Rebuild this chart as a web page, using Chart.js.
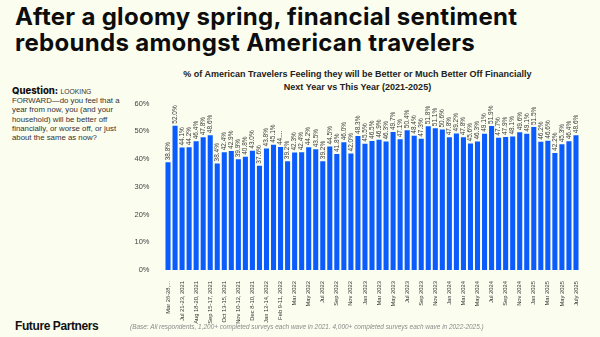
<!DOCTYPE html>
<html>
<head>
<meta charset="utf-8">
<script src="https://cdn.jsdelivr.net/npm/chart.js@4/dist/chart.umd.min.js"></script>
<style>
  html, body { margin: 0; padding: 0; background: #fbfdef; }
  #page { position: relative; width: 600px; height: 337px; overflow: hidden; background: #fbfdef;
          font-family: 'Liberation Sans', Arial, sans-serif; color: #111; }
  #headline { position: absolute; left: 15px; top: 4px; font-family: Inter, sans-serif; font-weight: 700;
              font-size: 24px; line-height: 26px; letter-spacing: 0.3px; color: #0d0d0d; white-space: nowrap; }
  #chartTitle { position: absolute; left: 150px; width: 415px; top: 68px; text-align: center;
                font-weight: 700; font-size: 9px; line-height: 13px; color: #222; }
  #question { position: absolute; left: 12px; top: 86px; font-size: 7.8px; line-height: 9.2px; color: #333; white-space: nowrap; }
  #question b { font-family: Inter, sans-serif; font-weight: 800; font-size: 9.5px; color: #111; }
  #question .caps { font-size: 6.8px; }
  #brand { position: absolute; left: 15px; top: 319px; font-weight: 700; font-size: 12px; letter-spacing: -0.4px; color: #111; }
  #base { position: absolute; left: 130px; top: 323px; font-style: italic; font-size: 6.45px; color: #8a8a8a; white-space: nowrap; }
  #wrap { position: absolute; left: 130px; top: 92px; width: 470px; height: 240px; }
</style>
</head>
<body>
<div id="page">
  <div id="headline">After a gloomy spring, financial sentiment<br>rebounds amongst American travelers</div>
  <div id="chartTitle">% of American Travelers Feeling they will be Better or Much Better Off Financially<br>Next Year vs This Year (2021-2025)</div>
  <div id="question"><b>Question:</b> <span class="caps">LOOKING</span><br>FORWARD—do you feel that a<br>year from now, you (and your<br>household) will be better off<br>financially, or worse off, or just<br>about the same as now?</div>
  <div id="wrap"><canvas id="chart" width="470" height="240"></canvas></div>
  <div id="brand">Future Partners</div>
  <div id="base">(Base: All respondents, 1,200+ completed surveys each wave in 2021. 4,000+ completed surveys each wave in 2022-2025.)</div>
</div>
<script>
// Survey waves (x categories)
const waves = [
  'Mar 26-28,...', 'Jul 7-9, 2021', 'Jul 21-23, 2021', 'Aug 4-6, 2021', 'Aug 18-20, 2021',
  'Sep 1-3, 2021', 'Sep 15-17, 2021', 'Sep 29-Oct 1, 2021', 'Oct 13-15, 2021', 'Oct 27-29, 2021',
  'Nov 10-12, 2021', 'Nov 22-24, 2021', 'Dec 8-10, 2021', 'Dec 20-22, 2021', 'Jan 12-14, 2022',
  'Jan 26-28, 2022', 'Feb 9-11, 2022', 'Feb 23-25, 2022',
  'Mar 2022', 'Apr 2022', 'May 2022', 'Jun 2022', 'Jul 2022', 'Aug 2022', 'Sep 2022', 'Oct 2022',
  'Nov 2022', 'Dec 2022', 'Jan 2023', 'Feb 2023', 'Mar 2023', 'Apr 2023', 'May 2023', 'Jun 2023',
  'Jul 2023', 'Aug 2023', 'Sep 2023', 'Oct 2023', 'Nov 2023', 'Dec 2023', 'Jan 2024', 'Feb 2024',
  'Mar 2024', 'Apr 2024', 'May 2024', 'Jun 2024', 'Jul 2024', 'Aug 2024', 'Sep 2024', 'Oct 2024',
  'Nov 2024', 'Dec 2024', 'Jan 2025', 'Feb 2025', 'Mar 2025', 'Apr 2025', 'May 2025', 'Jun 2025',
  'July 2025'
];

// % feeling better or much better off next year
const betterOff = [
  38.8, 52.0, 44.1, 44.2, 46.4, 47.8, 48.6, 38.4, 42.4, 42.9,
  39.9, 40.8, 43.0, 37.6, 43.8, 45.1, 44.3, 39.2, 42.3, 42.4,
  44.2, 43.5, 39.2, 44.5, 41.8, 46.0, 42.0, 48.3, 45.5, 46.5,
  46.9, 46.3, 49.7, 47.1, 50.4, 48.4, 47.3, 51.8, 51.1, 50.6,
  47.8, 49.2, 47.8, 45.6, 46.3, 49.1, 51.9, 47.7, 47.9, 48.1,
  49.6, 49.1, 51.5, 46.2, 46.6, 42.2, 45.3, 46.4, 48.6
];

// Value labels printed above the bars (one is clipped in the layout)
const valueLabels = betterOff.map(v => v.toFixed(1) + '%');
valueLabels[16] = '44....';

// Y axis ticks (%)
const yTicks = [0, 10, 20, 30, 40, 50, 60];

const barLabelPlugin = {
  id: 'barLabels',
  afterDatasetsDraw(chart) {
    const ctx = chart.ctx;
    const meta = chart.getDatasetMeta(0);
    ctx.save();
    ctx.font = '6.5px "Liberation Sans", Arial, sans-serif';
    ctx.fillStyle = '#3a3a3a';
    ctx.textAlign = 'left';
    ctx.textBaseline = 'middle';
    meta.data.forEach((bar, i) => {
      ctx.save();
      ctx.translate(bar.x, bar.y - 2);
      ctx.rotate(-Math.PI / 2);
      ctx.fillText(valueLabels[i], 0, 0);
      ctx.restore();
    });
    ctx.restore();
  }
};

new Chart(document.getElementById('chart'), {
  type: 'bar',
  data: {
    labels: waves,
    datasets: [{
      data: betterOff,
      backgroundColor: '#0a5cff',
      barPercentage: 0.72,
      categoryPercentage: 1
    }]
  },
  options: {
    responsive: false,
    devicePixelRatio: 1,
    animation: false,
    layout: { padding: { top: 9, right: 20.5, left: 0, bottom: 0 } },
    plugins: { legend: { display: false }, tooltip: { enabled: false } },
    scales: {
      x: {
        grid: { display: false },
        border: { display: false },
        ticks: {
          autoSkip: false,
          maxRotation: 90,
          minRotation: 90,
          padding: 3,
          color: '#333',
          font: { size: 5.8, family: '"Liberation Sans", Arial, sans-serif' },
          callback: (v, i) => (i % 2 === 0 ? waves[i] : '')
        },
        afterFit: s => { s.height = 62; }
      },
      y: {
        min: yTicks[0],
        max: yTicks[yTicks.length - 1],
        afterBuildTicks: s => { s.ticks = yTicks.map(v => ({ value: v })); },
        grid: { display: false },
        border: { display: false },
        ticks: {
          padding: 7,
          color: '#444',
          font: { size: 7.5, family: '"Liberation Sans", Arial, sans-serif' },
          callback: v => v + '%'
        },
        afterFit: s => { s.width = 34.5; }
      }
    }
  },
  plugins: [barLabelPlugin]
});
</script>
</body>
</html>
